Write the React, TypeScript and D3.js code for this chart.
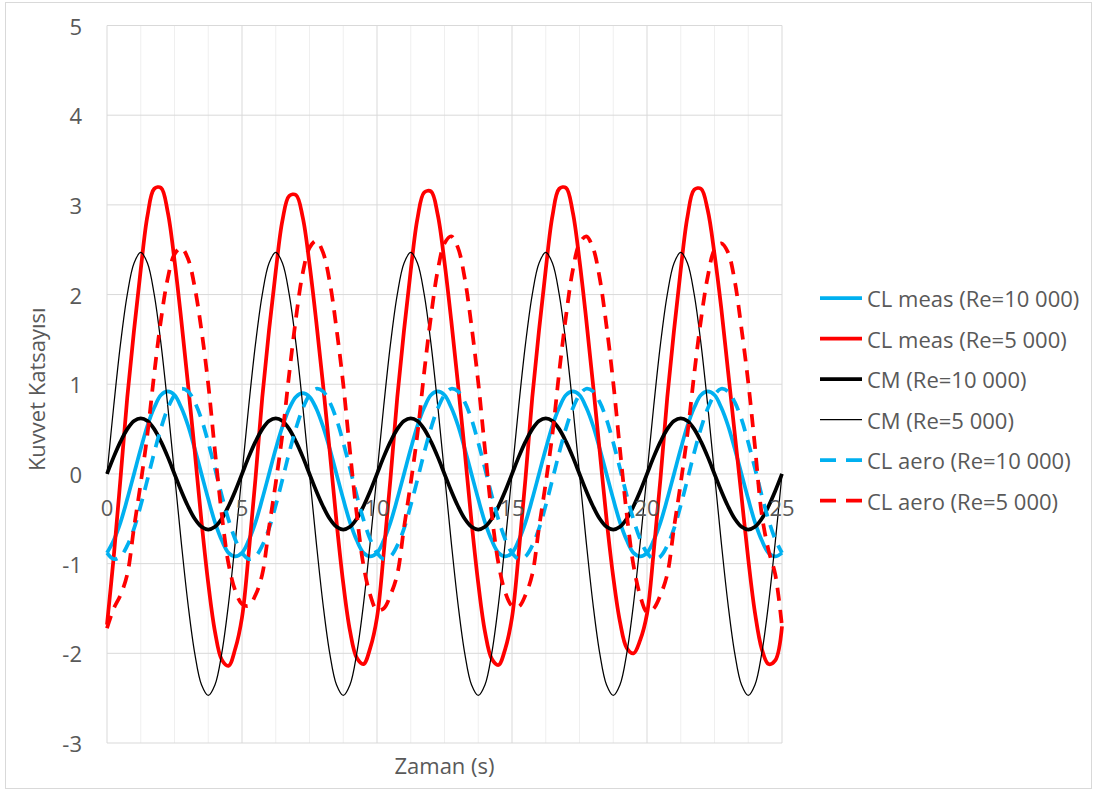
import React from "react";
import * as d3 from "d3";

// Time axis (s): samples every 0.25 s from 0 to 25
const times: number[] = d3.range(0, 25.0001, 0.25);

const xTicks = [0, 5, 10, 15, 20, 25];
const yTicks = [-3, -2, -1, 0, 1, 2, 3, 4, 5];

const clMeas10: number[] = [
  -0.88, -0.74, -0.54, -0.28, 0, 0.28, 0.54, 0.74, 0.88, 0.92, 0.88, 0.74, 0.54, 0.28, 0, -0.28, -0.54, -0.74, -0.88, -0.92,
  -0.88, -0.74, -0.54, -0.28, 0, 0.28, 0.53, 0.73, 0.86, 0.9, 0.86, 0.73, 0.53, 0.28, 0, -0.28, -0.54, -0.74, -0.88, -0.92,
  -0.88, -0.74, -0.54, -0.28, 0, 0.28, 0.54, 0.74, 0.88, 0.92, 0.88, 0.74, 0.54, 0.28, 0, -0.28, -0.54, -0.74, -0.88, -0.92,
  -0.88, -0.74, -0.54, -0.28, 0, 0.28, 0.54, 0.74, 0.88, 0.92, 0.88, 0.74, 0.54, 0.28, 0, -0.28, -0.54, -0.74, -0.88, -0.92,
  -0.88, -0.74, -0.54, -0.28, 0, 0.28, 0.54, 0.74, 0.88, 0.92, 0.88, 0.74, 0.54, 0.28, 0, -0.28, -0.54, -0.74, -0.88, -0.92,
  -0.88,
];

const clMeas5: number[] = [
  -1.68, -0.92, -0.05, 0.85, 1.6, 2.28, 2.88, 3.18, 3.19, 2.92, 2.38, 1.72, 1.0, 0.25, -0.53, -1.22, -1.76, -2.07, -2.14, -1.95,
  -1.6, -0.88, -0.05, 0.85, 1.6, 2.26, 2.83, 3.1, 3.11, 2.86, 2.34, 1.7, 1.0, 0.25, -0.53, -1.22, -1.75, -2.05, -2.12, -1.94,
  -1.6, -0.88, -0.05, 0.85, 1.6, 2.27, 2.85, 3.14, 3.15, 2.89, 2.36, 1.71, 1.0, 0.25, -0.53, -1.22, -1.76, -2.06, -2.13, -1.95,
  -1.6, -0.88, -0.05, 0.85, 1.6, 2.28, 2.88, 3.18, 3.19, 2.92, 2.38, 1.72, 1.0, 0.25, -0.5, -1.15, -1.65, -1.94, -2.0, -1.85,
  -1.56, -0.86, -0.05, 0.85, 1.6, 2.28, 2.87, 3.17, 3.18, 2.94, 2.45, 1.85, 1.15, 0.45, -0.25, -0.95, -1.55, -1.95, -2.12, -2.08,
  -1.7,
];

const cm10: number[] = [
  0, 0.19, 0.36, 0.5, 0.59, 0.62, 0.59, 0.5, 0.36, 0.19, 0, -0.19, -0.36, -0.5, -0.59, -0.62, -0.59, -0.5, -0.36, -0.19,
  0, 0.19, 0.36, 0.5, 0.59, 0.62, 0.59, 0.5, 0.36, 0.19, 0, -0.19, -0.36, -0.5, -0.59, -0.62, -0.59, -0.5, -0.36, -0.19,
  0, 0.19, 0.36, 0.5, 0.59, 0.62, 0.59, 0.5, 0.36, 0.19, 0, -0.19, -0.36, -0.5, -0.59, -0.62, -0.59, -0.5, -0.36, -0.19,
  0, 0.19, 0.36, 0.5, 0.59, 0.62, 0.59, 0.5, 0.36, 0.19, 0, -0.19, -0.36, -0.5, -0.59, -0.62, -0.59, -0.5, -0.36, -0.19,
  0, 0.19, 0.36, 0.5, 0.59, 0.62, 0.59, 0.5, 0.36, 0.19, 0, -0.19, -0.36, -0.5, -0.59, -0.62, -0.59, -0.5, -0.36, -0.19,
  0,
];

const cm5: number[] = [
  0, 0.76, 1.45, 2.0, 2.35, 2.47, 2.35, 2.0, 1.45, 0.76, 0, -0.76, -1.45, -2.0, -2.35, -2.47, -2.35, -2.0, -1.45, -0.76,
  0, 0.76, 1.45, 2.0, 2.35, 2.47, 2.35, 2.0, 1.45, 0.76, 0, -0.76, -1.45, -2.0, -2.35, -2.47, -2.35, -2.0, -1.45, -0.76,
  0, 0.76, 1.45, 2.0, 2.35, 2.47, 2.35, 2.0, 1.45, 0.76, 0, -0.76, -1.45, -2.0, -2.35, -2.47, -2.35, -2.0, -1.45, -0.76,
  0, 0.76, 1.45, 2.0, 2.35, 2.47, 2.35, 2.0, 1.45, 0.76, 0, -0.76, -1.45, -2.0, -2.35, -2.47, -2.35, -2.0, -1.45, -0.76,
  0, 0.76, 1.45, 2.0, 2.35, 2.47, 2.35, 2.0, 1.45, 0.76, 0, -0.76, -1.45, -2.0, -2.35, -2.47, -2.35, -2.0, -1.45, -0.76,
  0,
];

const clAero10: number[] = [
  -0.88, -0.95, -0.92, -0.8, -0.61, -0.35, -0.06, 0.24, 0.51, 0.73, 0.88, 0.95, 0.92, 0.8, 0.61, 0.35, 0.06, -0.24, -0.51, -0.73,
  -0.88, -0.95, -0.92, -0.8, -0.61, -0.35, -0.06, 0.24, 0.51, 0.73, 0.88, 0.95, 0.92, 0.8, 0.61, 0.35, 0.06, -0.24, -0.51, -0.73,
  -0.88, -0.95, -0.92, -0.8, -0.61, -0.35, -0.06, 0.24, 0.51, 0.73, 0.88, 0.95, 0.92, 0.8, 0.61, 0.35, 0.06, -0.24, -0.51, -0.73,
  -0.88, -0.95, -0.92, -0.8, -0.61, -0.35, -0.06, 0.24, 0.51, 0.73, 0.88, 0.95, 0.92, 0.8, 0.61, 0.35, 0.06, -0.24, -0.51, -0.73,
  -0.88, -0.95, -0.92, -0.8, -0.61, -0.35, -0.06, 0.24, 0.51, 0.73, 0.88, 0.95, 0.92, 0.8, 0.61, 0.35, 0.06, -0.24, -0.51, -0.73,
  -0.88,
];

const clAero5: number[] = [
  -1.72, -1.5, -1.35, -1.12, -0.6, -0.1, 0.45, 1.12, 1.72, 2.18, 2.45, 2.52, 2.4, 2.08, 1.6, 1.0, 0.25, -0.45, -1.0, -1.3,
  -1.45, -1.47, -1.35, -1.12, -0.6, -0.1, 0.45, 1.12, 1.74, 2.24, 2.52, 2.6, 2.47, 2.14, 1.62, 1.0, 0.25, -0.45, -1.02, -1.35,
  -1.52, -1.5, -1.35, -1.12, -0.6, -0.1, 0.45, 1.14, 1.76, 2.27, 2.57, 2.65, 2.52, 2.18, 1.65, 1.02, 0.27, -0.45, -1.0, -1.32,
  -1.47, -1.48, -1.35, -1.12, -0.6, -0.1, 0.45, 1.14, 1.76, 2.27, 2.57, 2.65, 2.52, 2.18, 1.65, 1.02, 0.27, -0.45, -1.02, -1.36,
  -1.54, -1.5, -1.35, -1.12, -0.6, -0.1, 0.45, 1.12, 1.72, 2.2, 2.5, 2.57, 2.47, 2.15, 1.62, 1.02, 0.3, -0.45, -0.85, -1.12,
  -1.7,
];

const seriesNames = [
  "CL meas (Re=10 000)",
  "CL meas (Re=5 000)",
  "CM (Re=10 000)",
  "CM (Re=5 000)",
  "CL aero (Re=10 000)",
  "CL aero (Re=5 000)",
];
const seriesValues = [clMeas10, clMeas5, cm10, cm5, clAero10, clAero5];
const seriesColors = ["#00B0F0", "#FF0000", "#000000", "#000000", "#00B0F0", "#FF0000"];
const seriesWidths = [3.75, 3.75, 3.75, 1.25, 3.75, 3.75];
const seriesDash = [null, null, null, null, "13 9", "13 9"];

const W = 1094;
const H = 792;
const FONT = "'Open Sans', 'Noto Sans', sans-serif";
const TEXT = "#595959";
const FS = 22;

export default function App() {
  const x = d3.scaleLinear().domain([0, 25]).range([107, 782]);
  const y = d3.scaleLinear().domain([-3, 5]).range([743, 25.5]);
  const line = d3
    .line<[number, number]>()
    .x((d) => x(d[0]))
    .y((d) => y(d[1]))
    .curve(d3.curveCatmullRom.alpha(0.5));

  const minorX = d3.range(0, 25.0001, 1.25);

  return (
    <svg
      width={W}
      height={H}
      style={{ position: "absolute", left: 0, top: 0, background: "#fff" }}
      fontFamily={FONT}
    >
      <rect x={0} y={0} width={W} height={H} fill="#fff" />
      <rect x={5.5} y={2.5} width={W - 8} height={H - 6} fill="none" stroke="#D9D9D9" strokeWidth={1} />
      {/* vertical gridlines */}
      {minorX.map((t) => (
        <line
          key={"vx" + t}
          x1={x(t)}
          x2={x(t)}
          y1={y(5)}
          y2={y(-3)}
          stroke={t % 5 === 0 ? "#D9D9D9" : "#EFEFEF"}
          strokeWidth={1}
        />
      ))}
      {/* horizontal gridlines */}
      {yTicks.map((v) => (
        <line key={"hy" + v} x1={x(0)} x2={x(25)} y1={y(v)} y2={y(v)} stroke="#D9D9D9" strokeWidth={1} />
      ))}
      {/* series */}
      {seriesValues.map((vals, i) => (
        <path
          key={"s" + i}
          d={line(vals.map((v, j) => [times[j], v] as [number, number])) || ""}
          fill="none"
          stroke={seriesColors[i]}
          strokeWidth={seriesWidths[i]}
          strokeDasharray={seriesDash[i] || undefined}
          strokeLinejoin="round"
        />
      ))}
      {/* y tick labels */}
      {yTicks.map((v) => (
        <text key={"yl" + v} x={82} y={y(v)} textAnchor="end" dominantBaseline="central" fontSize={FS} fill={TEXT}>
          {v}
        </text>
      ))}
      {/* x tick labels */}
      {xTicks.map((t) => (
        <text key={"xl" + t} x={x(t)} y={507} textAnchor="middle" dominantBaseline="central" fontSize={FS} fill={TEXT}>
          {t}
        </text>
      ))}
      {/* axis titles */}
      <text
        transform={`translate(36, ${(y(5) + y(-3)) / 2 + 5}) rotate(-90)`}
        textAnchor="middle"
        dominantBaseline="central"
        fontSize={FS}
        fill={TEXT}
      >
        Kuvvet Katsayısı
      </text>
      <text x={(x(0) + x(25)) / 2} y={765} textAnchor="middle" dominantBaseline="central" fontSize={FS} fill={TEXT}>
        Zaman (s)
      </text>
      {/* legend */}
      {seriesNames.map((name, i) => {
        const ly = 298 + i * 40.5;
        return (
          <g key={"lg" + i}>
            <line
              x1={820}
              x2={862}
              y1={ly}
              y2={ly}
              stroke={seriesColors[i]}
              strokeWidth={seriesWidths[i]}
              strokeDasharray={seriesDash[i] ? "16 10" : undefined}
            />
            <text x={867} y={ly} dominantBaseline="central" fontSize={FS} fill={TEXT}>
              {name}
            </text>
          </g>
        );
      })}
    </svg>
  );
}
